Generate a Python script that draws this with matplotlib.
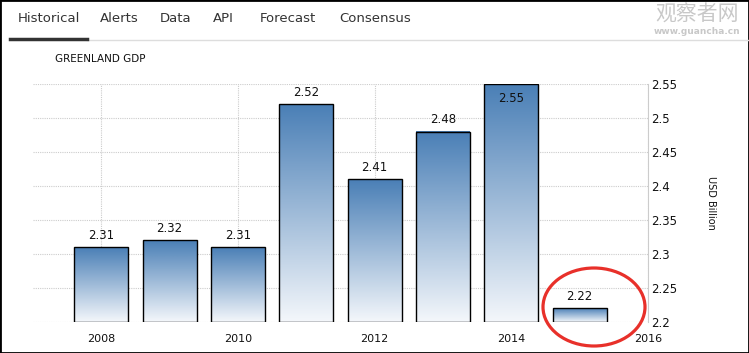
import numpy as np
import matplotlib
matplotlib.use("Agg")
import matplotlib.pyplot as plt
from matplotlib.colors import LinearSegmentedColormap
from matplotlib.patches import Ellipse

years = [2008, 2009, 2010, 2011, 2012, 2013, 2014, 2015]
gdp = [2.31, 2.32, 2.31, 2.52, 2.41, 2.48, 2.55, 2.22]
labels = ["2.31", "2.32", "2.31", "2.52", "2.41", "2.48", "2.55", "2.22"]
xticks = [2008, 2010, 2012, 2014, 2016]
yticks = [2.2, 2.25, 2.3, 2.35, 2.4, 2.45, 2.5, 2.55]
tabs = ["Historical", "Alerts", "Data", "API", "Forecast", "Consensus"]

plt.rcParams['font.family'] = ['DejaVu Sans', 'Noto Sans CJK SC']

W, H = 749, 353
fig = plt.figure(figsize=(W / 100, H / 100), dpi=100)
fig.patch.set_facecolor("white")

ax = fig.add_axes([33 / W, 1 - 322 / H, (648 - 33) / W, (322 - 84) / H])
base = 2.2
width = 0.79

cmap = LinearSegmentedColormap.from_list("g", ["#f4f7fb", "#4a7fb6"])
grad = np.linspace(0, 1, 256).reshape(-1, 1)
for x, v, lab in zip(years, gdp, labels):
    ax.imshow(grad, extent=[x - width / 2, x + width / 2, base, v], origin="lower",
              cmap=cmap, aspect="auto", zorder=2, interpolation="bicubic")
    if v >= 2.545:
        ax.text(x, v - 0.012, lab, ha="center", va="top", fontsize=8.5, color="#111111", zorder=4)
    else:
        ax.text(x, v + 0.008, lab, ha="center", va="bottom", fontsize=8.5, color="#111111", zorder=4)
ax.bar(years, [v - base for v in gdp], bottom=base, width=width, facecolor="none",
       edgecolor="black", linewidth=1.0, zorder=3)
ax.set_xlim(2007.0, 2016.0)
ax.set_ylim(2.2, 2.55)

ax.set_xticks(xticks)
ax.set_xticklabels([str(t) for t in xticks], fontsize=8)
ax.set_yticks(yticks)
ax.set_yticklabels([f"{t:g}" for t in yticks], fontsize=8.5)
ax.yaxis.tick_right()
ax.tick_params(axis="both", length=0, colors="#111111")
ax.tick_params(axis="x", pad=9)
ax.tick_params(axis="y", pad=2)
ax.grid(True, color="#cccccc", linestyle=(0, (1, 1)), linewidth=0.8)
ax.set_axisbelow(True)
for s in ["top", "left", "bottom"]:
    ax.spines[s].set_visible(False)
ax.spines["right"].set_color("#cccccc")
ax.spines["right"].set_linestyle((0, (1, 1)))
ax.spines["right"].set_linewidth(0.8)

ax.set_ylabel("USD Billion", rotation=270, fontsize=7, labelpad=28, color="#111111")
ax.yaxis.set_label_position("right")

fig.text(55 / W, 1 - 59 / H, "GREENLAND GDP", fontsize=7.5, color="#111111", va="center")

# Highlight ellipse around 2015 bar
ell = Ellipse((594 / W, 1 - 307 / H), 102 / W, 78 / H, transform=fig.transFigure,
              fill=False, edgecolor="#e8302a", linewidth=2.3, zorder=10)
fig.add_artist(ell)

# Tabs
tab_x = [18, 100, 160, 213, 260, 339]
for tx, t in zip(tab_x, tabs):
    fig.text(tx / W, 1 - 18 / H, t, fontsize=9.5, color="#333333", va="center")
fig.add_artist(plt.Line2D([87 / W, 1], [1 - 39.5 / H, 1 - 39.5 / H], transform=fig.transFigure,
                          color="#dddddd", linewidth=1))
fig.add_artist(plt.Line2D([10 / W, 87 / W], [1 - 38.5 / H, 1 - 38.5 / H], transform=fig.transFigure,
                          color="#333333", linewidth=2.5))

# Watermark
fig.text(697 / W, 1 - 15 / H, "观察者网", fontsize=15, color="#c8c8c8", ha="center", va="center",
         family=["Noto Sans CJK SC", "DejaVu Sans"])
fig.text(697 / W, 1 - 32 / H, "www.guancha.cn", fontsize=6.5, color="#c8c8c8", ha="center", va="center",
         fontweight="bold")

# Outer border
fig.add_artist(plt.Rectangle((0, 0), 1, 1, transform=fig.transFigure, fill=False,
                             edgecolor="black", linewidth=2))

fig.savefig("out.png", dpi=100)
